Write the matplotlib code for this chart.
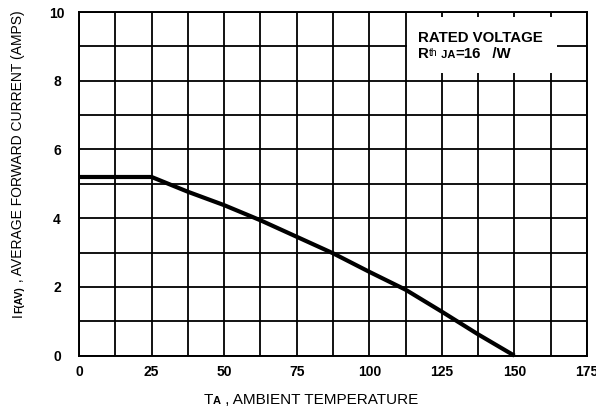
import matplotlib
matplotlib.use("Agg")
import matplotlib.pyplot as plt
from matplotlib.patches import Rectangle
import numpy as np

plt.rcParams["font.family"] = ["Liberation Sans", "DejaVu Sans"]

# derating curve
TEMP = [0, 25, 37.5, 50, 62.5, 75, 87.5, 100, 112.5, 125, 137.5, 150]
CURRENT = [5.2, 5.2, 4.77, 4.38, 3.94, 3.46, 2.98, 2.44, 1.92, 1.28, 0.62, 0.0]

X_TICKS = [0, 25, 50, 75, 100, 125, 150, 175]
Y_TICKS = [0, 2, 4, 6, 8, 10]

XLABEL = [("T", 11, "normal"), ("A", 8, "bold"), (" , AMBIENT TEMPERATURE", 11, "normal")]
YLABEL = [("I", 10, "normal"), ("F(AV)", 7.5, "bold"),
          (" , AVERAGE FORWARD CURRENT (AMPS)", 10, "normal")]
NOTE1 = [("RATED VOLTAGE", 10.8, "bold")]
NOTE2 = [("R", 10.8, "bold"), ("th", 7.5, "normal"), (" JA", 8, "bold"),
         ("=16", 10.8, "bold"), ("   /W", 10.8, "bold")]


def put_pieces(fig, pieces, x0, y0, vertical=False, center=True):
    # write text made of pieces with different sizes; x0, y0 in pixels from bottom-left
    r = fig.canvas.get_renderer()
    widths = []
    for s, size, weight in pieces:
        t = fig.text(0, 0, s, fontsize=size, fontweight=weight)
        widths.append(t.get_window_extent(r).width)
        t.remove()
    W, H = fig.bbox.width, fig.bbox.height
    pos = -sum(widths) / 2 if center else 0
    for (s, size, weight), w in zip(pieces, widths):
        rise = 2 if s == "th" else 0
        if vertical:
            fig.text((x0 - rise) / W, (y0 + pos) / H, s, fontsize=size, fontweight=weight,
                     rotation=90, rotation_mode="anchor", ha="left", va="baseline")
        else:
            fig.text((x0 + pos) / W, (y0 + rise) / H, s, fontsize=size, fontweight=weight,
                     ha="left", va="baseline")
        pos += w


fig = plt.figure(figsize=(5.96, 4.07), dpi=100)
ax = fig.add_axes([0.1326, 0.126, 0.8524, 0.8445])

ax.set_xlim(0, 175)
ax.set_ylim(0, 10)
ax.set_xticks(X_TICKS)
ax.set_yticks(Y_TICKS)
ax.set_xticks(np.arange(0, 176, 12.5), minor=True)
ax.set_yticks(np.arange(0, 11, 1), minor=True)
ax.set_xticklabels([str(v) for v in X_TICKS], fontsize=10, fontweight="bold")
ax.set_yticklabels([str(v) for v in Y_TICKS], fontsize=10, fontweight="bold", ha="center")
ax.tick_params(which="both", length=0)
ax.tick_params(axis="x", pad=6.7)
ax.tick_params(axis="y", pad=15.8)
ax.set_axisbelow(True)
ax.grid(which="both", color="black", linewidth=1.3)
for sp in ax.spines.values():
    sp.set_linewidth(1.4)

# white box behind the note
ax.add_patch(Rectangle((113, 8.22), 51.6, 1.63, facecolor="white", edgecolor="none", zorder=1))

ax.plot(TEMP, CURRENT, color="black", linewidth=3.0, solid_capstyle="butt", clip_on=False, zorder=3)

put_pieces(fig, XLABEL, 311, 3)
put_pieces(fig, YLABEL, 22, 243, vertical=True)
put_pieces(fig, NOTE1, 418, 365, center=False)
put_pieces(fig, NOTE2, 418, 349.5, center=False)

fig.savefig("out.png", dpi=100)
